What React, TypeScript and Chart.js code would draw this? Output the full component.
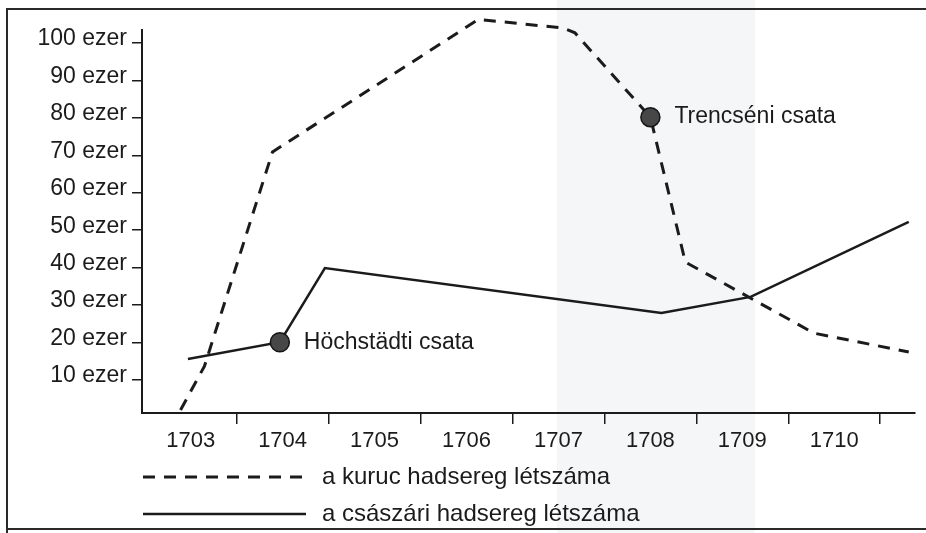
import React, { useEffect, useRef } from "react";
import { Chart, registerables } from "chart.js";

Chart.register(...registerables);

// ---- data ----
const kurucYears = [1702.89, 1703.15, 1703.89, 1706.13, 1707.05, 1707.18, 1708.0, 1708.38, 1709.78, 1710.81];
const kurucValues = [2.0, 13.7, 70.9, 106.3, 104.0, 102.7, 80.2, 41.5, 22.5, 17.5];

const csaszariYears = [1702.97, 1703.97, 1704.46, 1708.12, 1709.09, 1710.81];
const csaszariValues = [15.6, 20.1, 39.9, 27.9, 32.2, 52.2];

const battleNames = ["Höchstädti csata", "Trencséni csata"];
const battleYears = [1703.97, 1708.0];
const battleValues = [20.1, 80.2];

const seriesLabels = ["a kuruc hadsereg létszáma", "a császári hadsereg létszáma"];
const xLabelYears = [1703, 1704, 1705, 1706, 1707, 1708, 1709, 1710];
const yTickValues = [10, 20, 30, 40, 50, 60, 70, 80, 90, 100];

const INK = "#1b1b1b";
const FONT = "'Liberation Sans', Arial, Helvetica, sans-serif";

const toPoints = (xs: number[], ys: number[]) => xs.map((x, i) => ({ x, y: ys[i] }));

const framePlugin = {
  id: "scanFrame",
  beforeDraw(chart: any) {
    const { ctx, width, height } = chart;
    ctx.save();
    ctx.fillStyle = "#ffffff";
    ctx.fillRect(0, 0, width, height);
    ctx.fillStyle = "#f5f6f8";
    ctx.fillRect(557, 0, 198, height);
    ctx.strokeStyle = "#2a2a2a";
    ctx.lineWidth = 2;
    ctx.beginPath();
    ctx.moveTo(7, height);
    ctx.lineTo(7, 9);
    ctx.lineTo(width, 9);
    ctx.stroke();
    ctx.beginPath();
    ctx.moveTo(7, 529);
    ctx.lineTo(width, 529);
    ctx.stroke();
    ctx.restore();
  },
};

const battleLabelPlugin = {
  id: "battleLabels",
  afterDatasetsDraw(chart: any) {
    const ctx = chart.ctx;
    const idx = chart.data.datasets.findIndex((d: any) => d.battle);
    if (idx < 0) return;
    const meta = chart.getDatasetMeta(idx);
    ctx.save();
    ctx.font = `23px ${FONT}`;
    ctx.fillStyle = INK;
    ctx.textAlign = "left";
    ctx.textBaseline = "middle";
    meta.data.forEach((pt: any, i: number) => {
      ctx.fillText(battleNames[i], pt.x + 24, pt.y);
    });
    ctx.restore();
  },
};

const legendPlugin = {
  id: "rowLegend",
  afterDraw(chart: any) {
    const ctx = chart.ctx;
    const rows = [477, 514];
    const x0 = 143;
    const x1 = 306;
    const tx = 322;
    const series = chart.data.datasets.filter((d: any) => !d.battle);
    ctx.save();
    series.forEach((ds: any, i: number) => {
      const y = rows[i];
      ctx.beginPath();
      ctx.setLineDash(ds.borderDash || []);
      ctx.lineWidth = ds.borderWidth;
      ctx.strokeStyle = ds.borderColor;
      ctx.moveTo(x0, y);
      ctx.lineTo(x1, y);
      ctx.stroke();
      ctx.setLineDash([]);
      ctx.font = `24px ${FONT}`;
      ctx.fillStyle = INK;
      ctx.textAlign = "left";
      ctx.textBaseline = "middle";
      ctx.fillText(ds.label, tx, y);
    });
    ctx.restore();
  },
};

export default function App() {
  const canvasRef = useRef<HTMLCanvasElement | null>(null);

  useEffect(() => {
    document.body.style.margin = "0";
    const canvas = canvasRef.current;
    if (!canvas) return;

    const chart = new Chart(canvas, {
      type: "line",
      data: {
        datasets: [
          {
            label: seriesLabels[0],
            data: toPoints(kurucYears, kurucValues),
            borderColor: INK,
            borderWidth: 3,
            borderDash: [12, 9],
            pointRadius: 0,
            fill: false,
            tension: 0,
            clip: false,
          } as any,
          {
            label: seriesLabels[1],
            data: toPoints(csaszariYears, csaszariValues),
            borderColor: INK,
            borderWidth: 2.5,
            pointRadius: 0,
            fill: false,
            tension: 0,
            clip: false,
          } as any,
          {
            label: "battles",
            battle: true,
            data: toPoints(battleYears, battleValues),
            showLine: false,
            pointRadius: 9.5,
            pointBackgroundColor: "#474747",
            pointBorderColor: "#151515",
            pointBorderWidth: 1.5,
            order: -1,
            clip: false,
          } as any,
        ],
      },
      options: {
        animation: false,
        responsive: false,
        devicePixelRatio: 1,
        layout: { padding: { left: 0, top: 30, right: 8, bottom: 0 } },
        plugins: {
          legend: { display: false },
          tooltip: { enabled: false },
        },
        scales: {
          x: {
            type: "linear",
            min: 1702.4707,
            max: 1710.878,
            afterBuildTicks: (scale: any) => {
              const vals: number[] = [];
              xLabelYears.forEach((y) => {
                vals.push(y);
                vals.push(y + 0.5);
              });
              scale.ticks = vals.map((v) => ({ value: v }));
            },
            afterFit: (scale: any) => {
              scale.height = 120;
            },
            ticks: {
              autoSkip: false,
              maxRotation: 0,
              minRotation: 0,
              padding: 4,
              color: INK,
              font: { family: FONT, size: 22 },
              callback: (v: any) => (Number.isInteger(v) ? String(v) : ""),
            },
            grid: {
              drawOnChartArea: false,
              drawTicks: true,
              tickLength: 11,
              lineWidth: 1.5,
              color: (c: any) =>
                c.tick && Number.isInteger(c.tick.value) ? "rgba(0,0,0,0)" : INK,
            },
            border: { display: true, color: INK, width: 2 },
          },
          y: {
            type: "linear",
            min: 1.19,
            max: 103.47,
            afterBuildTicks: (scale: any) => {
              scale.ticks = yTickValues.map((v) => ({ value: v }));
            },
            afterFit: (scale: any) => {
              scale.width = 142;
            },
            ticks: {
              padding: 5,
              labelOffset: -4,
              color: INK,
              font: { family: FONT, size: 23 },
              callback: (v: any) => `${v} ezer`,
            },
            grid: {
              drawOnChartArea: false,
              drawTicks: true,
              tickLength: 10,
              lineWidth: 1.5,
              color: INK,
            },
            border: { display: true, color: INK, width: 2 },
          },
        },
      },
      plugins: [framePlugin, battleLabelPlugin, legendPlugin],
    });

    return () => chart.destroy();
  }, []);

  return (
    <div style={{ width: 926, height: 533, position: "relative" }}>
      <canvas ref={canvasRef} width={926} height={533} style={{ display: "block" }} />
    </div>
  );
}
